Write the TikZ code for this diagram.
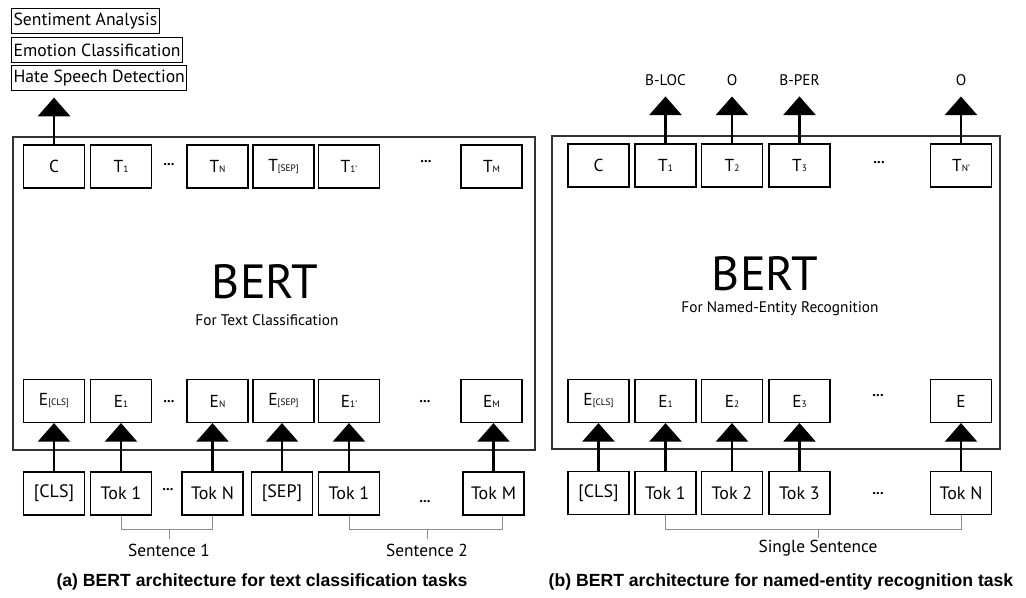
\documentclass[tikz,border=0pt]{standalone}
\usepackage{fontspec}
\setmainfont{PT Sans}
\newfontfamily\capfont{Liberation Sans}
\usetikzlibrary{arrows.meta,positioning}
\newcommand{\tsub}[1]{{\fontsize{7}{8}\selectfont #1}}

\begin{document}
\begin{tikzpicture}[x=0.75pt,y=-0.75pt,
  outer/.style={rectangle,draw=black!80,line width=1.1pt,inner sep=0pt},
  emb/.style={rectangle,draw,line width=1.1pt,minimum width=46pt,minimum height=32pt,inner sep=0pt,font=\fontsize{13}{15}\selectfont},
  tok/.style={emb,font=\fontsize{13.5}{15}\selectfont},
  task/.style={rectangle,draw,line width=0.9pt,inner xsep=1.5pt,inner ysep=0pt,minimum height=18.5pt,anchor=west,font=\fontsize{13.2}{15}\selectfont},
  dots/.style={inner sep=0pt,font=\fontsize{11}{12}\selectfont\bfseries},
  lbl/.style={inner sep=0pt,anchor=base,font=\fontsize{11.5}{13}\selectfont},
  arrow/.style={-{Triangle[width=24pt,length=14pt]},line width=2.2pt},
  bracket/.style={draw=black!45,line width=0.7pt},
  caption/.style={inner sep=0pt,anchor=base,font=\capfont\bfseries\fontsize{13.2}{15}\selectfont}]
  \useasboundingbox (0,0) rectangle (1026,598);

  % (a) text classification
  \node[outer,minimum width=391.5pt,minimum height=234.75pt] (bertA) at (274,293.5) {};
  \node[inner sep=0pt,anchor=base,font=\fontsize{36}{40}\selectfont] (titleA) at (265,299) {BERT};
  \node[inner sep=0pt,anchor=base,font=\fontsize{11.5}{13}\selectfont] (subA) at (267,326) {For Text Classification};

  \node[task] (sa) at (11,21) {Sentiment Analysis};
  \node[task] (ec) at (11,50) {Emotion Classification};
  \node[task] (hs) at (11,78) {Hate Speech Detection};

  \node[emb] (tC) at (54,166.5) {C};
  \node[emb] (tOne) at (121,166.5) {T\tsub{1}};
  \node[dots] (dotsTA) at (169,165) {...};
  \node[emb] (tN) at (217.5,166.5) {T\tsub{N}};
  \node[emb] (tSep) at (283.5,166.5) {T\tsub{[SEP]}};
  \node[emb] (tOneP) at (349,166.5) {T\tsub{1'}};
  \node[dots] (dotsTB) at (426,162) {...};
  \node[emb] (tM) at (491.5,166.5) {T\tsub{M}};

  \node[emb] (eCls) at (54,401) {E\tsub{[CLS]}};
  \node[emb] (eOne) at (121,401) {E\tsub{1}};
  \node[dots] (dotsEA) at (169,402) {...};
  \node[emb] (eN) at (217.5,401) {E\tsub{N}};
  \node[emb] (eSep) at (283.5,401) {E\tsub{[SEP]}};
  \node[emb] (eOneP) at (349,401) {E\tsub{1'}};
  \node[dots] (dotsEB) at (425,402) {...};
  \node[emb] (eM) at (491.5,401) {E\tsub{M}};

  \node[tok] (kCls) at (54,493.5) {[CLS]};
  \node[tok] (kOne) at (121,493.5) {Tok 1};
  \node[dots] (dotsKA) at (168,490) {...};
  \node[tok] (kN) at (212.5,493.5) {Tok N};
  \node[tok] (kSep) at (282,493.5) {[SEP]};
  \node[tok] (kOneP) at (349,493.5) {Tok 1};
  \node[dots] (dotsKB) at (425,502) {...};
  \node[tok] (kM) at (493.5,493.5) {Tok M};

  \draw[arrow,shorten >=5pt] (tC.north) -- (tC.north |- hs.south);
  \draw[arrow] (kCls.north) -- (kCls.north |- eCls.south);
  \draw[arrow] (kOne.north) -- (kOne.north |- eOne.south);
  \draw[arrow] (kN.north) -- (kN.north |- eN.south);
  \draw[arrow] (kSep.north) -- (kSep.north |- eSep.south);
  \draw[arrow] (kOneP.north) -- (kOneP.north |- eOneP.south);
  \draw[arrow] (kM.north) -- (kM.north |- eM.south);

  \node[lbl,font=\fontsize{13}{15}\selectfont] (sentA) at (169,557) {Sentence 1};
  \node[lbl,font=\fontsize{13}{15}\selectfont] (sentB) at (427,557) {Sentence 2};
  \draw[bracket] (kOne.south) -- ++(0,14) coordinate (brA) -| (kN.south);
  \draw[bracket] (brA -| sentA) -- ++(0,9);
  \draw[bracket] (kOneP.south) -- ++(0,14) coordinate (brB) -| ([xshift=7pt]kM.south);
  \draw[bracket] (brB -| sentB) -- ++(0,9);

  \node[caption] (capA) at (262,587) {(a) BERT architecture for text classification tasks};

  % (b) named-entity recognition
  \node[outer,minimum width=336pt,minimum height=234.75pt] (bertB) at (776,292.5) {};
  \node[inner sep=0pt,anchor=base,font=\fontsize{36}{40}\selectfont] (titleB) at (765,291) {BERT};
  \node[inner sep=0pt,anchor=base,font=\fontsize{11.5}{13}\selectfont] (subB) at (780,313) {For Named-Entity Recognition};

  \node[emb] (rC) at (598.5,165.5) {C};
  \node[emb] (rOne) at (665.5,165.5) {T\tsub{1}};
  \node[emb] (rTwo) at (732,165.5) {T\tsub{2}};
  \node[emb] (rThree) at (799.5,165.5) {T\tsub{3}};
  \node[dots] (dotsRT) at (879,163) {...};
  \node[emb] (rN) at (961,165.5) {T\tsub{N'}};

  \node[lbl] (outLoc) at (665.5,86) {B-LOC};
  \node[lbl] (outOa) at (732,86) {O};
  \node[lbl] (outPer) at (799.5,86) {B-PER};
  \node[lbl] (outOb) at (961,86) {O};

  \node[emb] (fCls) at (598.5,401) {E\tsub{[CLS]}};
  \node[emb] (fOne) at (665.5,401) {E\tsub{1}};
  \node[emb] (fTwo) at (732,401) {E\tsub{2}};
  \node[emb] (fThree) at (799.5,401) {E\tsub{3}};
  \node[dots] (dotsRE) at (878,396) {...};
  \node[emb] (fN) at (961,401) {E};

  \node[tok] (mCls) at (598.5,493) {[CLS]};
  \node[tok] (mOne) at (665.5,493) {Tok 1};
  \node[tok] (mTwo) at (732,493) {Tok 2};
  \node[tok] (mThree) at (799.5,493) {Tok 3};
  \node[dots] (dotsRK) at (878,494) {...};
  \node[tok] (mN) at (961,493) {Tok N};

  \draw[arrow,shorten >=7.5pt] (rOne.north) -- (rOne.north |- outLoc.south);
  \draw[arrow,shorten >=7.5pt] (rTwo.north) -- (rTwo.north |- outOa.south);
  \draw[arrow,shorten >=7.5pt] (rThree.north) -- (rThree.north |- outPer.south);
  \draw[arrow,shorten >=7.5pt] (rN.north) -- (rN.north |- outOb.south);
  \draw[arrow] (mCls.north) -- (mCls.north |- fCls.south);
  \draw[arrow] (mOne.north) -- (mOne.north |- fOne.south);
  \draw[arrow] (mTwo.north) -- (mTwo.north |- fTwo.south);
  \draw[arrow] (mThree.north) -- (mThree.north |- fThree.south);
  \draw[arrow] (mN.north) -- (mN.north |- fN.south);

  \node[lbl,font=\fontsize{13}{15}\selectfont] (sentC) at (818,553) {Single Sentence};
  \draw[bracket] (mOne.south) -- ++(0,14) coordinate (brC) -| (mN.south);
  \draw[bracket] (brC -| sentC) -- ++(0,9);

  \node[caption] (capB) at (781,587) {(b) BERT architecture for named-entity recognition task};
\end{tikzpicture}
\end{document}
